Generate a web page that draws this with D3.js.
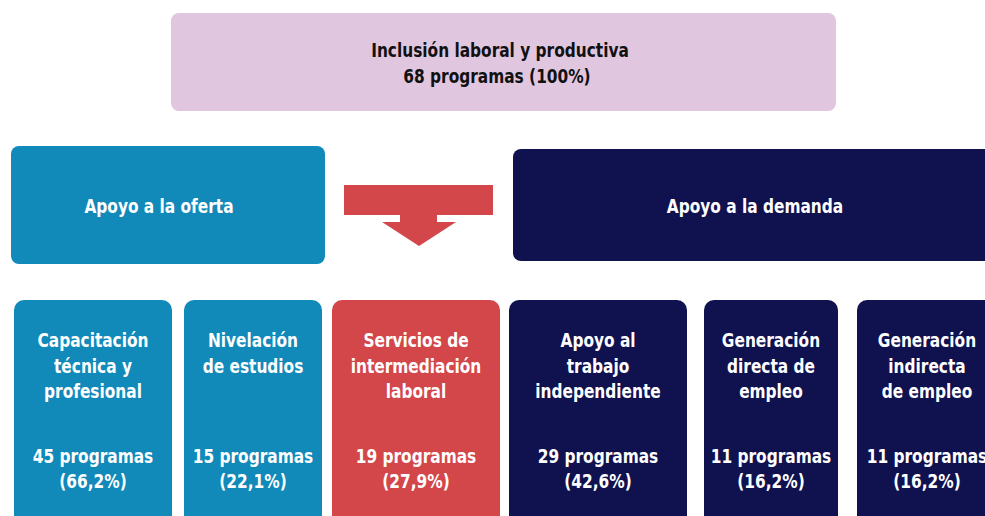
<!DOCTYPE html>
<html><head><meta charset="utf-8">
<script src="https://cdn.jsdelivr.net/npm/d3@7"></script>
<style>
html,body{margin:0;padding:0;background:#fff;}
svg{display:block;}
text{font-family:"DejaVu Sans Condensed","Liberation Sans Narrow","Arial Narrow",sans-serif;font-weight:bold;}
</style></head>
<body>
<script>
// ---- data ----
const totalLabel = "Inclusión laboral y productiva";
const totalPrograms = 68;
const totalPct = "100%";
const groups = ["Apoyo a la oferta", "Apoyo a la demanda"];
const categories = [
  ["Capacitación", "técnica y", "profesional"],
  ["Nivelación", "de estudios"],
  ["Servicios de", "intermediación", "laboral"],
  ["Apoyo al", "trabajo", "independiente"],
  ["Generación", "directa de", "empleo"],
  ["Generación", "indirecta", "de empleo"]
];
const programs = [45, 15, 19, 29, 11, 11];
const percents = ["66,2%", "22,1%", "27,9%", "42,6%", "16,2%", "16,2%"];
const categoryGroup = ["oferta", "oferta", "both", "demanda", "demanda", "demanda"];

// ---- layout ----
const W = 985, H = 516;
const colors = {top:"#e1c6e0", oferta:"#1189b9", demanda:"#10124f", both:"#d3464a"};
const boxX = [[14,172],[184,322],[332,500],[509,687],[704,838],[857,1000]];
const textX = [93, 253, 416, 598, 771, 927];
const SX = 0.9;

const svg = d3.select("body").append("svg").attr("width", W).attr("height", H);

function addText(parent, x, y, str, fill) {
  return parent.append("text")
    .attr("transform", `translate(${x},${y}) scale(${SX},1)`)
    .attr("text-anchor", "middle")
    .attr("font-size", 19)
    .attr("fill", fill)
    .text(str);
}

// top box
svg.append("rect").attr("x",171).attr("y",13).attr("width",665).attr("height",98)
  .attr("rx",8).attr("fill",colors.top);
addText(svg, 500, 57, totalLabel, "#111");
addText(svg, 497, 83, `${totalPrograms} programas (${totalPct})`, "#111");

// group boxes
const groupBoxes = [
  {x:11, y:146, w:314, h:118, c:colors.oferta, tx:159},
  {x:513, y:149, w:500, h:112, c:colors.demanda, tx:755}
];
groupBoxes.forEach((b,i)=>{
  svg.append("rect").attr("x",b.x).attr("y",b.y).attr("width",b.w).attr("height",b.h)
    .attr("rx",8).attr("fill",b.c);
  addText(svg, b.tx, 213, groups[i], "#fff");
});

// arrow
svg.append("rect").attr("x",344).attr("y",185).attr("width",149).attr("height",30).attr("fill",colors.both);
svg.append("rect").attr("x",400).attr("y",214).attr("width",37).attr("height",9).attr("fill",colors.both);
svg.append("path").attr("d","M382,222 L456,222 L419,246 Z").attr("fill",colors.both);

// bottom boxes
const g = svg.selectAll("g.cat").data(categories).join("g").attr("class","cat");
g.append("rect")
  .attr("x",(d,i)=>boxX[i][0]).attr("y",300)
  .attr("width",(d,i)=>boxX[i][1]-boxX[i][0]).attr("height",240)
  .attr("rx",10).attr("fill",(d,i)=>colors[categoryGroup[i]]);
g.each(function(d,i){
  const sel = d3.select(this);
  const x = textX[i];
  d.forEach((line,k)=>{
    addText(sel, x, 347 + k*25.5, line, "#fff");
  });
  addText(sel, x, 463, `${programs[i]} programas`, "#fff");
  addText(sel, x, 488, `(${percents[i]})`, "#fff");
});
</script>
</body></html>
